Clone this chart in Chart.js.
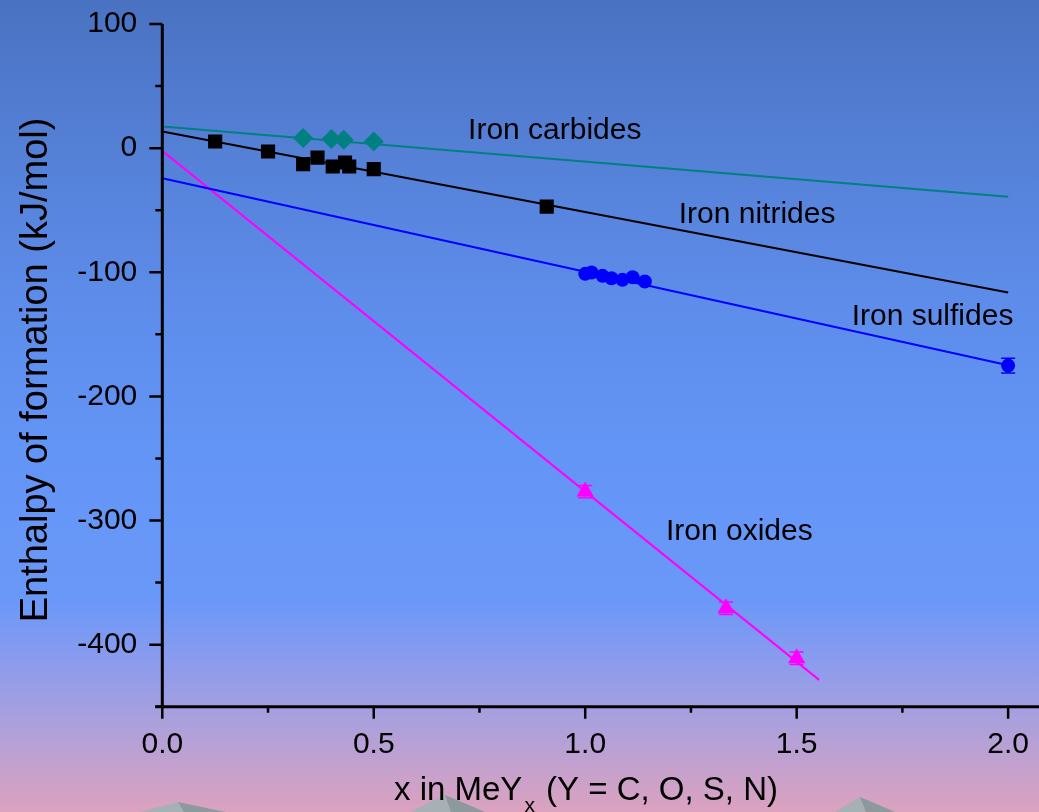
<!DOCTYPE html>
<html>
<head>
<meta charset="utf-8">
<script src="https://cdn.jsdelivr.net/npm/chart.js@4.4.1/dist/chart.umd.min.js"></script>
<style>
  html, body { margin: 0; padding: 0; overflow: hidden; }
  canvas { display: block; }
</style>
</head>
<body>
<canvas id="chart" width="1039" height="812"></canvas>
<script>
// Measured points (x in MeYx, enthalpy kJ/mol)
const carbideX = [0.333, 0.4, 0.429, 0.5];
const carbideY = [8.1, 7.3, 6.7, 5.3];

const nitrideX = [0.125, 0.25, 0.333, 0.367, 0.403, 0.432, 0.442, 0.5, 0.909];
const nitrideY = [5.3, -2.7, -12.9, -7.6, -14.8, -11.6, -14.8, -16.9, -47.1];

const sulfideX = [1.0, 1.015, 1.041, 1.062, 1.088, 1.112, 1.141, 2.0];
const sulfideY = [-101.3, -100.2, -102.9, -104.8, -106.1, -104.0, -107.5, -175.2];
const sulfideErr = [0, 0, 0, 0, 0, 0, 0, 6];

const oxideX = [1.0, 1.333, 1.5];
const oxideY = [-276.7, -370.7, -411.0];
const oxideErr = [5, 5, 5];

// Fit lines, end points
const carbideFitX = [0, 2.0];
const carbideFitY = [17.4, -39.2];
const nitrideFitX = [0, 2.0];
const nitrideFitY = [13.4, -116.3];
const sulfideFitX = [0, 2.0];
const sulfideFitY = [-24.2, -175.0];
const oxideFitX = [0, 1.553];
const oxideFitY = [-2.2, -428.4];

// Axis ticks
const xMajor = [0, 0.5, 1.0, 1.5, 2.0];
const xMinor = [0.25, 0.75, 1.25, 1.75];
const yMajor = [100, 0, -100, -200, -300, -400];
const yMinor = [50, -50, -150, -250, -350, -450];

// Series labels
const labelText = ['Iron carbides', 'Iron nitrides', 'Iron sulfides', 'Iron oxides'];
const labelX = [0.723, 1.221, 1.63, 1.191];
const labelY = [7.5, -60, -142.4, -315.6];

const FONT = '"Liberation Sans", Arial, sans-serif';

function pts(xs, ys) {
    return xs.map((x, i) => ({ x: x, y: ys[i] }));
}

function pointSet(xs, ys, shape, color, r) {
    return {
        type: 'scatter',
        data: pts(xs, ys),
        pointStyle: shape,
        pointRadius: r,
        pointHoverRadius: r,
        backgroundColor: color,
        borderColor: color,
        borderWidth: 0,
        showLine: false,
        order: 0
    };
}

function fitSet(xs, ys, color) {
    return {
        type: 'line',
        data: pts(xs, ys),
        borderColor: color,
        borderWidth: 2,
        pointRadius: 0,
        fill: false,
        order: 1
    };
}

// drop the extra room chart.js keeps for edge labels
function noPad(s) {
    s.paddingTop = 0;
    s.paddingBottom = 0;
    s.paddingLeft = 0;
    s.paddingRight = 0;
}

const background = {
    id: 'background',
    beforeDraw(chart) {
        const ctx = chart.ctx;
        const h = chart.height;
        const g = ctx.createLinearGradient(0, 0, 0, h);
        g.addColorStop(0, '#4a72c2');
        g.addColorStop(150 / h, '#5480d6');
        g.addColorStop(300 / h, '#5d8cea');
        g.addColorStop(450 / h, '#6395f6');
        g.addColorStop(600 / h, '#6a98f8');
        g.addColorStop(660 / h, '#8a9bee');
        g.addColorStop(720 / h, '#aaa0dd');
        g.addColorStop(1, '#dca2bf');
        ctx.save();
        ctx.fillStyle = g;
        ctx.fillRect(0, 0, chart.width, h);
        // grey peaks peeking in at the bottom
        const peaks = [[140, 812, 178, 802, 225, 812], [410, 812, 445, 795, 485, 812], [835, 812, 860, 797, 895, 812]];
        peaks.forEach(p => {
            ctx.fillStyle = '#a6b0b5';
            ctx.beginPath();
            ctx.moveTo(p[0], p[1]);
            ctx.lineTo(p[2], p[3]);
            ctx.lineTo(p[4], p[5]);
            ctx.closePath();
            ctx.fill();
            ctx.fillStyle = '#8e999e';
            ctx.beginPath();
            ctx.moveTo(p[2], p[3]);
            ctx.lineTo(p[4], p[5]);
            ctx.lineTo(p[2] + 6, p[5]);
            ctx.closePath();
            ctx.fill();
        });
        ctx.restore();
    }
};

const decorations = {
    id: 'decorations',
    afterDatasetsDraw(chart) {
        const ctx = chart.ctx;
        const xs = chart.scales.x;
        const ys = chart.scales.y;
        const x0 = xs.getPixelForValue(0);
        const yb = ys.getPixelForValue(-450);
        ctx.save();

        // error bars
        const bars = [[sulfideX, sulfideY, sulfideErr, '#0000ff'], [oxideX, oxideY, oxideErr, '#ff00ff']];
        bars.forEach(b => {
            ctx.strokeStyle = b[3];
            ctx.lineWidth = 1.5;
            b[0].forEach((x, i) => {
                const e = b[2][i];
                if (!e) return;
                const px = xs.getPixelForValue(x);
                const top = ys.getPixelForValue(b[1][i] + e);
                const bot = ys.getPixelForValue(b[1][i] - e);
                ctx.beginPath();
                ctx.moveTo(px, top); ctx.lineTo(px, bot);
                ctx.moveTo(px - 7, top); ctx.lineTo(px + 7, top);
                ctx.moveTo(px - 7, bot); ctx.lineTo(px + 7, bot);
                ctx.stroke();
            });
        });

        // axes
        ctx.strokeStyle = '#000';
        ctx.lineWidth = 3;
        ctx.beginPath();
        ctx.moveTo(x0, ys.getPixelForValue(100));
        ctx.lineTo(x0, yb);
        ctx.moveTo(x0 - 7, yb);
        ctx.lineTo(chart.width, yb);
        ctx.stroke();

        ctx.lineWidth = 2.5;
        ctx.beginPath();
        yMajor.forEach(v => {
            const py = ys.getPixelForValue(v);
            ctx.moveTo(x0 - 13, py); ctx.lineTo(x0, py);
        });
        yMinor.forEach(v => {
            const py = ys.getPixelForValue(v);
            ctx.moveTo(x0 - 7, py); ctx.lineTo(x0, py);
        });
        xMajor.forEach(v => {
            const px = xs.getPixelForValue(v);
            ctx.moveTo(px, yb); ctx.lineTo(px, yb + 12);
        });
        xMinor.forEach(v => {
            const px = xs.getPixelForValue(v);
            ctx.moveTo(px, yb); ctx.lineTo(px, yb + 6);
        });
        ctx.stroke();

        // series labels
        ctx.fillStyle = '#000';
        ctx.font = '30px ' + FONT;
        ctx.textAlign = 'left';
        ctx.textBaseline = 'alphabetic';
        labelText.forEach((t, i) => {
            ctx.fillText(t, xs.getPixelForValue(labelX[i]), ys.getPixelForValue(labelY[i]));
        });

        // y title
        ctx.save();
        ctx.translate(47, 370);
        ctx.rotate(-Math.PI / 2);
        ctx.font = '38px ' + FONT;
        ctx.textAlign = 'center';
        ctx.fillText('Enthalpy of formation (kJ/mol)', 0, 0);
        ctx.restore();

        // x title with subscript
        const base = 800;
        ctx.font = '33px ' + FONT;
        const a = 'x in MeY';
        const b = ' (Y = C, O, S, N)';
        const wa = ctx.measureText(a).width;
        const wb = ctx.measureText(b).width;
        ctx.font = '21px ' + FONT;
        const ws = ctx.measureText('x').width + 4;
        let left = 586 - (wa + ws + wb) / 2;
        ctx.font = '33px ' + FONT;
        ctx.fillText(a, left, base);
        ctx.font = '21px ' + FONT;
        ctx.fillText('x', left + wa + 2, base + 12);
        ctx.font = '33px ' + FONT;
        ctx.fillText(b, left + wa + ws, base);

        ctx.restore();
    }
};

new Chart(document.getElementById('chart'), {
    data: {
        datasets: [
            pointSet(carbideX, carbideY, 'rectRot', '#008080', 10),
            pointSet(nitrideX, nitrideY, 'rect', '#000000', 10),
            pointSet(sulfideX, sulfideY, 'circle', '#0000ff', 7),
            pointSet(oxideX, oxideY, 'triangle', '#ff00ff', 10),
            fitSet(carbideFitX, carbideFitY, '#008080'),
            fitSet(nitrideFitX, nitrideFitY, '#000000'),
            fitSet(sulfideFitX, sulfideFitY, '#0000ff'),
            fitSet(oxideFitX, oxideFitY, '#ff00ff')
        ]
    },
    options: {
        responsive: false,
        animation: false,
        events: [],
        layout: { autoPadding: false, padding: { top: 24, right: 0, left: 0, bottom: 0 } },
        plugins: {
            legend: { display: false },
            tooltip: { enabled: false }
        },
        scales: {
            x: {
                type: 'linear',
                min: 0,
                max: 2.073,
                grid: { display: false, drawTicks: false },
                border: { display: false },
                afterBuildTicks: s => { s.ticks = xMajor.map(v => ({ value: v })); },
                afterFit: s => { s.height = 105.3; noPad(s); },
                ticks: {
                    padding: 20,
                    color: '#000',
                    maxRotation: 0,
                    font: { family: FONT, size: 30 },
                    callback: v => v.toFixed(1)
                }
            },
            y: {
                type: 'linear',
                min: -450,
                max: 100,
                grid: { display: false, drawTicks: false },
                border: { display: false },
                afterBuildTicks: s => { s.ticks = yMajor.map(v => ({ value: v })); },
                afterFit: s => { s.width = 162.3; noPad(s); },
                ticks: {
                    padding: 25,
                    color: '#000',
                    font: { family: FONT, size: 30 },
                    callback: v => String(v)
                }
            }
        }
    },
    plugins: [background, decorations]
});
</script>
</body>
</html>
